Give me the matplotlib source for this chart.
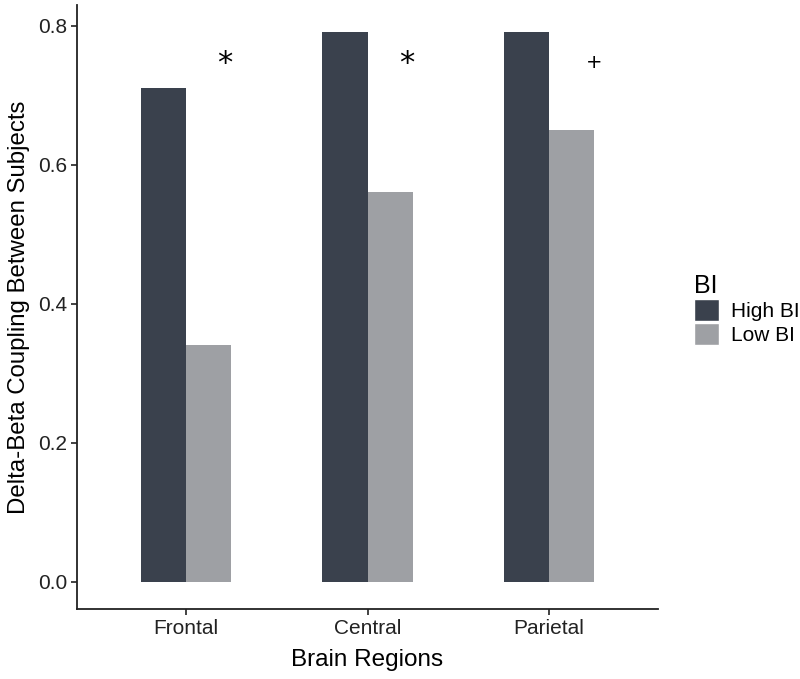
import numpy as np
import matplotlib.pyplot as plt
from matplotlib.patches import Patch

plt.rcParams['font.family'] = ['Liberation Sans', 'DejaVu Sans']

# Data
regions = ["Frontal", "Central", "Parietal"]
high_bi = [0.71, 0.79, 0.79]
low_bi = [0.34, 0.56, 0.65]
marks = ["*", "*", "+"]
mark_y = [0.745, 0.745, 0.747]

dark = "#3a414d"
light = "#9ea0a4"

fig = plt.figure(figsize=(8, 6.79), dpi=100)
ax = fig.add_axes([0.09625, 0.1031, 0.72625, 0.8895])

x = np.arange(1, len(regions) + 1)
w = 0.25
ax.bar(x - w / 2, high_bi, width=w, color=dark, label="High BI")
ax.bar(x + w / 2, low_bi, width=w, color=light, label="Low BI")

for xi, m, my in zip(x, marks, mark_y):
    if m == "*":
        ax.text(xi + 0.215, my, m, ha="center", va="center", fontsize=22,
                family="DejaVu Sans")
    else:
        ax.text(xi + 0.25, my, m, ha="center", va="center", fontsize=14,
                family="DejaVu Sans")

ax.set_xlim(0.4, 3.6)
ax.set_ylim(-0.0395, 0.8295)
ax.set_xticks(x)
ax.set_xticklabels(regions)
ax.set_yticks([0.0, 0.2, 0.4, 0.6, 0.8])
ax.set_yticklabels(["0.0", "0.2", "0.4", "0.6", "0.8"])

for s in ["top", "right"]:
    ax.spines[s].set_visible(False)
for s in ["left", "bottom"]:
    ax.spines[s].set_linewidth(1.3)
    ax.spines[s].set_color("#222222")
ax.tick_params(axis="both", labelsize=15, colors="#222222", length=4, width=1.2, pad=3)

ax.set_xlabel("Brain Regions", fontsize=17.5, labelpad=8)
ax.set_ylabel("Delta-Beta Coupling Between Subjects", fontsize=17.3, labelpad=6)

handles = [Patch(facecolor=dark, edgecolor="white", label="High BI"),
           Patch(facecolor=light, edgecolor="white", label="Low BI")]
leg = fig.legend(handles=handles, title="BI", loc="upper left",
                 bbox_to_anchor=(0.862, 0.603), frameon=False, fontsize=15,
                 title_fontsize=18, handlelength=1.2, handleheight=1.3,
                 handletextpad=0.6, labelspacing=0.05, borderaxespad=0,
                 borderpad=0.2)
leg._legend_box.align = "left"

fig.savefig("out.png", dpi=100)
